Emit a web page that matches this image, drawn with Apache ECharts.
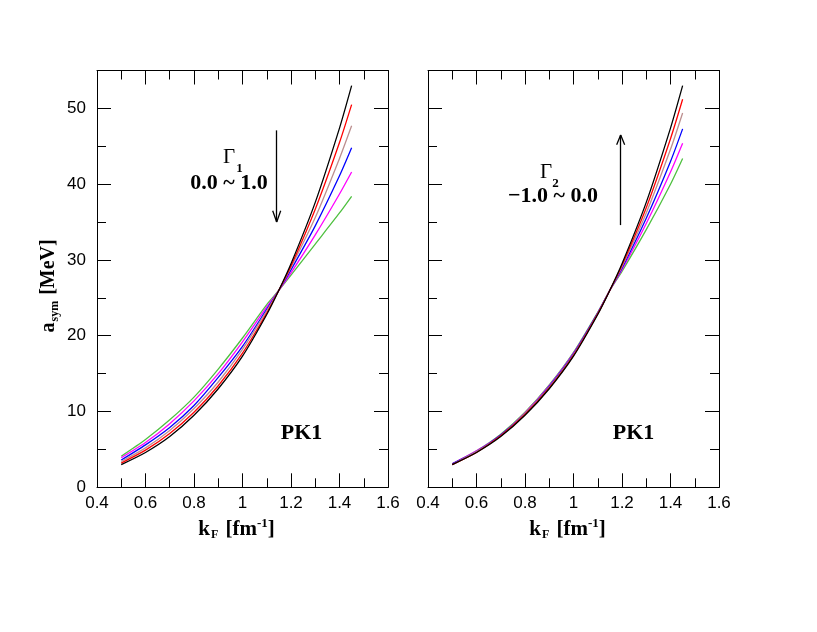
<!DOCTYPE html>
<html><head><meta charset="utf-8">
<script src="https://cdn.jsdelivr.net/npm/echarts@6/dist/echarts.min.js"></script>
<style>html,body{margin:0;padding:0;background:#fff}#c{width:817px;height:632px}</style>
</head><body><div id="c"></div>
<script>
// ---- data ----
const kF = [0.5, 0.6, 0.7, 0.8, 0.9, 1.0, 1.1, 1.15, 1.2, 1.3, 1.4, 1.45];
const xTickLabels = ['0.4', '0.6', '0.8', '1', '1.2', '1.4', '1.6'];
const yTickLabels = ['0', '10', '20', '30', '40', '50'];

// left panel: Gamma1 = 0.0 ... 1.0
const namesG1 = ['Γ1 = 0.0', 'Γ1 = 0.2', 'Γ1 = 0.4', 'Γ1 = 0.6', 'Γ1 = 0.8', 'Γ1 = 1.0'];
const g1_a = [3.0, 4.6, 6.7, 9.5, 13.0, 17.3, 22.8, 26.0, 29.5, 37.6, 47.4, 53.0];
const g1_b = [3.2, 4.9, 7.1, 9.9, 13.4, 17.7, 23.0, 26.0, 29.2, 36.7, 45.5, 50.5];
const g1_c = [3.4, 5.2, 7.5, 10.4, 13.9, 18.2, 23.3, 26.0, 29.0, 35.6, 43.4, 47.7];
const g1_d = [3.6, 5.6, 7.9, 10.8, 14.5, 18.6, 23.5, 26.0, 28.7, 34.5, 41.1, 44.8];
const g1_e = [3.9, 5.9, 8.4, 11.4, 15.0, 19.2, 23.8, 26.0, 28.3, 33.3, 38.7, 41.6];
const g1_f = [4.1, 6.3, 8.9, 11.9, 15.6, 19.7, 24.1, 26.0, 28.0, 32.1, 36.2, 38.4];

// right panel: Gamma2 = 0.0 ... -1.0
const namesG2 = ['Γ2 = 0.0', 'Γ2 = -0.2', 'Γ2 = -0.4', 'Γ2 = -0.6', 'Γ2 = -0.8', 'Γ2 = -1.0'];
const g2_a = [3.0, 4.6, 6.7, 9.5, 13.0, 17.3, 22.8, 26.0, 29.5, 37.6, 47.4, 53.0];
const g2_b = [3.0, 4.6, 6.8, 9.6, 13.1, 17.4, 22.9, 26.0, 29.3, 36.9, 46.0, 51.2];
const g2_c = [3.0, 4.7, 6.8, 9.7, 13.2, 17.5, 22.9, 26.0, 29.1, 36.2, 44.6, 49.4];
const g2_d = [3.1, 4.7, 6.9, 9.7, 13.3, 17.6, 23.0, 26.0, 28.9, 35.5, 43.0, 47.3];
const g2_e = [3.1, 4.8, 6.9, 9.8, 13.4, 17.7, 23.0, 26.0, 28.7, 34.8, 41.6, 45.4];
const g2_f = [3.1, 4.8, 7.0, 9.9, 13.5, 17.8, 23.1, 26.0, 28.5, 34.0, 40.0, 43.4];

const colors = ['#000000', '#ff0000', '#bc8f8f', '#0000ff', '#ff00ff', '#4fc040'];

// arrows (data coordinates): [start, end]
const arrowLeft = [[1.141, 47.1], [1.141, 35.0]];
const arrowLeftHead = [[1.1245, 36.5], [1.1575, 36.5]];
const arrowRight = [[1.1946, 34.6], [1.1946, 46.5]];
const arrowRightHead = [[1.178, 45.2], [1.211, 45.2]];

// ---- chart ----
const chart = echarts.init(document.getElementById('c'));
const SERIF = '"Liberation Serif", "Times New Roman", serif';
const SANS = '"Liberation Sans", Arial, sans-serif';

function fmtX(v) {
  const i = Math.round((v - 0.4) / 0.2);
  return xTickLabels[i] !== undefined ? xTickLabels[i] : '';
}
function fmtY(v) {
  const i = Math.round(v / 10);
  return yTickLabels[i] !== undefined ? yTickLabels[i] : '';
}

const tickStyle = { color: '#000', width: 1 };
function xAx(gi, pos, showLabel, name) {
  const a = {
    type: 'value', gridIndex: gi, position: pos, min: 0.4, max: 1.6, interval: 0.2,
    axisLine: { show: true, onZero: false, lineStyle: { color: '#000', width: 1 } },
    axisTick: { show: true, inside: true, length: 14, lineStyle: tickStyle },
    minorTick: { show: true, splitNumber: 2, length: 9, lineStyle: tickStyle },
    splitLine: { show: false }, minorSplitLine: { show: false },
    axisLabel: { show: showLabel, formatter: fmtX, color: '#000', fontFamily: SANS, fontSize: 17, margin: 8, showMinLabel: true, showMaxLabel: true }
  };
  if (name) {
    a.name = '{b|k}{s|F}{b| [fm}{p|-1}{b|]}{g|}';
    a.nameLocation = 'middle';
    a.nameGap = 27;
    a.nameTextStyle = {
      color: '#000', fontFamily: SERIF, fontWeight: 'bold', fontSize: 21,
      rich: {
        b: { fontFamily: SERIF, fontWeight: 'bold', fontSize: 21, lineHeight: 24, color: '#000' },
        s: { fontFamily: SERIF, fontWeight: 'bold', fontSize: 12, lineHeight: 11, verticalAlign: 'bottom', padding: [0, 2, 0, 1], color: '#000' },
        p: { fontFamily: SERIF, fontWeight: 'bold', fontSize: 13, lineHeight: 6, verticalAlign: 'top', color: '#000' },
        g: { width: 12, height: 10 }
      }
    };
  }
  return a;
}
function yAx(gi, pos, showLabel, name) {
  const a = {
    type: 'value', gridIndex: gi, position: pos, min: 0, max: 55, interval: 10,
    axisLine: { show: true, onZero: false, lineStyle: { color: '#000', width: 1 } },
    axisTick: { show: true, inside: true, length: 14, lineStyle: tickStyle },
    minorTick: { show: true, splitNumber: 2, length: 9, lineStyle: tickStyle },
    splitLine: { show: false }, minorSplitLine: { show: false },
    axisLabel: { show: showLabel, formatter: fmtY, color: '#000', fontFamily: SANS, fontSize: 17, margin: 11, showMaxLabel: false }
  };
  if (name) {
    a.name = '{b|a}{s|sym}{b| [MeV]}{g|}';
    a.nameLocation = 'middle';
    a.nameGap = 36;
    a.nameTextStyle = {
      color: '#000', fontFamily: SERIF, fontWeight: 'bold', fontSize: 20,
      rich: {
        b: { fontFamily: SERIF, fontWeight: 'bold', fontSize: 20, lineHeight: 24, color: '#000' },
        s: { fontFamily: SERIF, fontWeight: 'bold', fontSize: 12, lineHeight: 11, verticalAlign: 'bottom', padding: [0, 1, 0, 1], color: '#000' },
        g: { width: 14, height: 10 }
      }
    };
  }
  return a;
}

function mkSeries(name, data, color, xi, yi, extra) {
  const s = {
    name: name, type: 'line', xAxisIndex: xi, yAxisIndex: yi,
    data: kF.map((k, i) => [k, data[i]]),
    showSymbol: false, symbol: 'none', smooth: 0.25,
    lineStyle: { color: color, width: 1.3 }, itemStyle: { color: color },
    animation: false, z: 3
  };
  return Object.assign(s, extra || {});
}
function arrowMark(line, head) {
  const tip = line[1];
  const seg = (a, b) => [{ coord: a }, { coord: b }];
  return {
    markLine: {
      silent: true, symbol: ['none', 'none'], animation: false,
      label: { show: false },
      lineStyle: { color: '#000', width: 1.3, type: 'solid' },
      emphasis: { disabled: true },
      data: [seg(line[0], line[1]), seg(tip, head[0]), seg(tip, head[1])]
    }
  };
}

const left = [g1_a, g1_b, g1_c, g1_d, g1_e, g1_f];
const right = [g2_a, g2_b, g2_c, g2_d, g2_e, g2_f];
const series = [];
left.forEach((d, i) => series.push(mkSeries(namesG1[i], d, colors[i], 0, 0, i === 0 ? arrowMark(arrowLeft, arrowLeftHead) : null)));
right.forEach((d, i) => series.push(mkSeries(namesG2[i], d, colors[i], 2, 2, i === 0 ? arrowMark(arrowRight, arrowRightHead) : null)));
series.reverse();

const txt = (x, y, text, font, align) => ({
  type: 'text', x: x, y: y, silent: true, z: 10,
  style: { text: text, font: font, fill: '#000', textAlign: align || 'center', textVerticalAlign: 'middle' }
});

chart.setOption({
  backgroundColor: '#fff',
  animation: false,
  grid: [
    { left: 97, top: 70.5, width: 291, height: 416.8, containLabel: false, outerBoundsMode: 'none' },
    { left: 428, top: 70.5, width: 291, height: 416.8, containLabel: false, outerBoundsMode: 'none' }
  ],
  xAxis: [xAx(0, 'bottom', true, true), xAx(0, 'top', false, false), xAx(1, 'bottom', true, true), xAx(1, 'top', false, false)],
  yAxis: [yAx(0, 'left', true, true), yAx(0, 'right', false, false), yAx(1, 'left', false, false), yAx(1, 'right', false, false)],
  series: series,
  graphic: [
    txt(229, 157.5, 'Γ', '21px ' + SERIF),
    txt(239.5, 168.5, '1', 'bold 13px ' + SERIF),
    txt(229, 183, '0.0 ~ 1.0', 'bold 22px ' + SERIF),
    txt(546, 172.5, 'Γ', '21px ' + SERIF),
    txt(555.5, 183.5, '2', 'bold 13px ' + SERIF),
    txt(553, 196, '−1.0 ~ 0.0', 'bold 22px ' + SERIF),
    txt(301.5, 433, 'PK1', 'bold 22px ' + SERIF),
    txt(633.5, 433, 'PK1', 'bold 22px ' + SERIF)
  ]
});
</script>
</body></html>
